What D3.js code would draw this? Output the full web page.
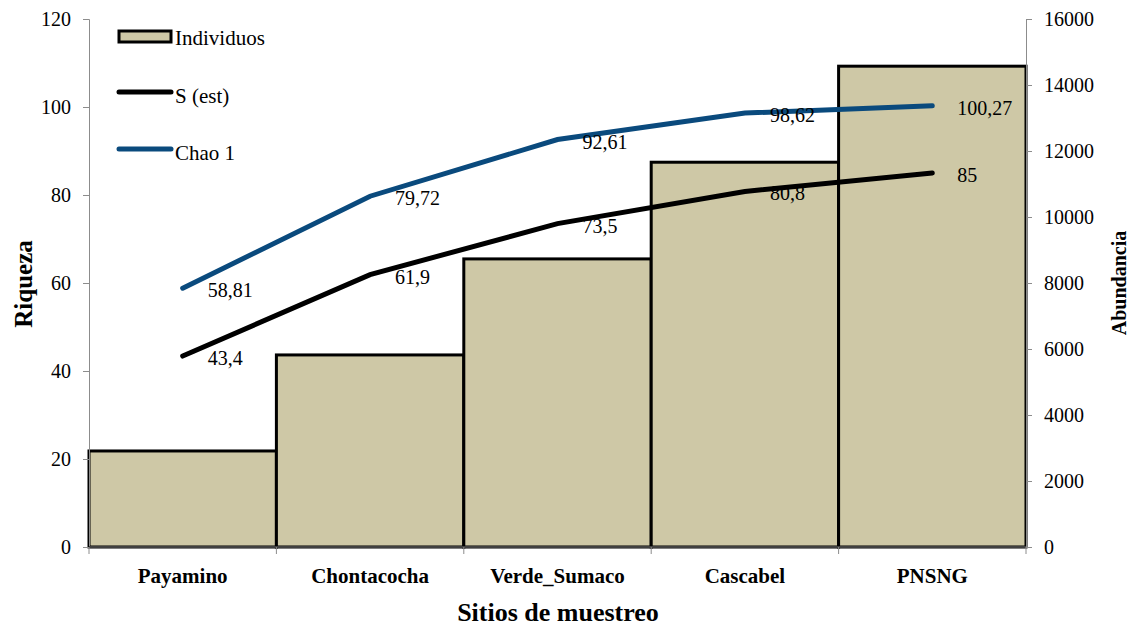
<!DOCTYPE html>
<html>
<head>
<meta charset="utf-8">
<script src="https://cdn.jsdelivr.net/npm/d3@7"></script>
<style>
  body { margin: 0; background: #fff; }
  svg text { font-family: "Liberation Serif", "Times New Roman", serif; fill: #000; }
  .tick text { font-size: 20px; }
  .axis path, .axis line { stroke: #8c8c8c; }
  .cat { font-size: 21px; font-weight: bold; }
  .lbl { font-size: 20px; }
  .leg { font-size: 21px; }
</style>
</head>
<body>
<script>
// data
const sites = ["Payamino", "Chontacocha", "Verde_Sumaco", "Cascabel", "PNSNG"]
const individuos = [2910, 5820, 8730, 11660, 14570]
const sEst = [43.4, 61.9, 73.5, 80.8, 85]
const chao1 = [58.81, 79.72, 92.61, 98.62, 100.27]
const sEstLabels = ["43,4", "61,9", "73,5", "80,8", "85"]
const chaoLabels = ["58,81", "79,72", "92,61", "98,62", "100,27"]
const leftTicks = [0, 20, 40, 60, 80, 100, 120]
const rightTicks = [0, 2000, 4000, 6000, 8000, 10000, 12000, 14000, 16000]

let w = 1133
let h = 628
let pLeft = 89, pRight = 1026, pTop = 19, pBottom = 547

let svg = d3.select("body").append("svg")
            .attr("width", w)
            .attr("height", h)

let x = d3.scaleBand().domain(sites).range([pLeft, pRight]).padding(0)
let yL = d3.scaleLinear().domain([0, 120]).range([pBottom, pTop])
let yR = d3.scaleLinear().domain([0, 16000]).range([pBottom, pTop])

// bars
svg.selectAll("rect.bar")
   .data(sites)
   .enter()
   .append("rect")
   .attr("class", "bar")
   .attr("x", d => x(d))
   .attr("y", (d, i) => yR(individuos[i]))
   .attr("width", x.bandwidth())
   .attr("height", (d, i) => pBottom - yR(individuos[i]))
   .attr("fill", "#cec8a6")
   .attr("stroke", "#000")
   .attr("stroke-width", 3)

// axes
svg.append("g").attr("class", "axis")
   .attr("transform", "translate(" + pLeft + ",0)")
   .call(d3.axisLeft(yL).tickValues(leftTicks).tickFormat(d3.format("d"))
           .tickSize(6).tickPadding(12).tickSizeOuter(6))
svg.append("g").attr("class", "axis")
   .attr("transform", "translate(" + pRight + ",0)")
   .call(d3.axisRight(yR).tickValues(rightTicks).tickFormat(d3.format("d"))
           .tickSize(6).tickPadding(12).tickSizeOuter(6))
svg.selectAll(".axis").attr("font-family", null).attr("font-size", null)

// bottom axis
svg.append("line")
   .attr("x1", pLeft).attr("x2", pRight)
   .attr("y1", pBottom).attr("y2", pBottom)
   .attr("stroke", "#404040").attr("stroke-width", 2)
let bounds = sites.map(d => x(d)).concat([pRight])
svg.selectAll("line.bt")
   .data(bounds)
   .enter()
   .append("line")
   .attr("class", "bt")
   .attr("x1", d => d).attr("x2", d => d)
   .attr("y1", pBottom).attr("y2", pBottom + 7)
   .attr("stroke", "#8c8c8c")
svg.selectAll("text.cat")
   .data(sites)
   .enter()
   .append("text")
   .attr("class", "cat")
   .attr("x", d => x(d) + x.bandwidth() / 2)
   .attr("y", 583)
   .attr("text-anchor", "middle")
   .text(d => d)

// lines
let cx = d => x(d) + x.bandwidth() / 2
let line = d3.line().x((d, i) => cx(sites[i])).y(d => yL(d))
svg.append("path").datum(sEst)
   .attr("d", line).attr("fill", "none")
   .attr("stroke", "#000").attr("stroke-width", 5).attr("stroke-linecap", "round")
svg.append("path").datum(chao1)
   .attr("d", line).attr("fill", "none")
   .attr("stroke", "#0a4a7d").attr("stroke-width", 5).attr("stroke-linecap", "round")

// value labels
function labels(vals, txt) {
    svg.selectAll(null)
       .data(vals)
       .enter()
       .append("text")
       .attr("class", "lbl")
       .attr("x", (d, i) => cx(sites[i]) + 25)
       .attr("y", d => yL(d) + 9)
       .text((d, i) => txt[i])
}
labels(chao1, chaoLabels)
labels(sEst, sEstLabels)

// legend
svg.append("rect").attr("x", 119).attr("y", 31).attr("width", 52).attr("height", 11)
   .attr("fill", "#cec8a6").attr("stroke", "#000").attr("stroke-width", 3)
svg.append("text").attr("class", "leg").attr("x", 175).attr("y", 45).text("Individuos")
svg.append("line").attr("x1", 119).attr("x2", 171).attr("y1", 92).attr("y2", 92)
   .attr("stroke", "#000").attr("stroke-width", 5).attr("stroke-linecap", "round")
svg.append("text").attr("class", "leg").attr("x", 175).attr("y", 103).text("S (est)")
svg.append("line").attr("x1", 119).attr("x2", 171).attr("y1", 149).attr("y2", 149)
   .attr("stroke", "#0a4a7d").attr("stroke-width", 5).attr("stroke-linecap", "round")
svg.append("text").attr("class", "leg").attr("x", 175).attr("y", 160).text("Chao 1")

// axis titles
svg.append("text")
   .attr("transform", "translate(32,284) rotate(-90)")
   .attr("text-anchor", "middle")
   .style("font-size", "25px").style("font-weight", "bold")
   .text("Riqueza")
svg.append("text")
   .attr("transform", "translate(1126,283) rotate(-90)")
   .attr("text-anchor", "middle")
   .style("font-size", "20px").style("font-weight", "bold")
   .text("Abundancia")
svg.append("text")
   .attr("x", 558).attr("y", 621)
   .attr("text-anchor", "middle")
   .style("font-size", "26px").style("font-weight", "bold")
   .text("Sitios de muestreo")
</script>
</body>
</html>
